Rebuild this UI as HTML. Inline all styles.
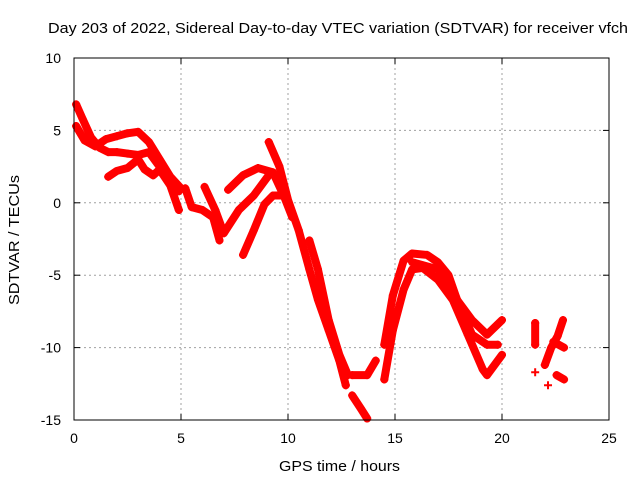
<!DOCTYPE html>
<html><head><meta charset="utf-8"><style>
body{margin:0;background:#fff;}
svg{display:block;font-family:"Liberation Sans",sans-serif;}
</style></head><body>
<svg id="c" width="640" height="480">
<text x="48" y="33" font-size="15" textLength="580" lengthAdjust="spacingAndGlyphs">Day 203 of 2022, Sidereal Day-to-day VTEC variation (SDTVAR) for receiver vfch</text>
<text x="279" y="471" font-size="15" textLength="121" lengthAdjust="spacingAndGlyphs">GPS time / hours</text>
<text transform="translate(19,305) rotate(-90)" font-size="15" textLength="130" lengthAdjust="spacingAndGlyphs">SDTVAR / TECUs</text>
<g id="grid"></g><g id="ticks"></g><g id="marks"></g>
<rect x="74" y="58" width="535" height="362" fill="none" stroke="#000" stroke-width="1"/>
</svg>
<script>
const xTicks=[0,5,10,15,20,25];
const yTicks=[10,5,0,-5,-10,-15];
const track1=[[0.1,6.8],[0.4,5.8],[0.8,4.5],[1.2,3.8],[1.6,3.5],[2,3.5],[2.5,3.4],[3,3.3],[3.5,3.5],[4,2.5],[4.5,1.5],[4.9,0.8]];
const track2=[[0.1,5.3],[0.5,4.3],[1,3.9],[1.5,4.4],[2,4.6],[2.5,4.8],[3,4.9],[3.5,4.2],[4,3.0],[4.5,1.8],[5,1.0]];
const track3=[[1.6,1.8],[2,2.2],[2.5,2.4],[3,3.0],[3.3,2.3],[3.7,1.9],[4,2.3],[4.5,1.2],[4.9,-0.5]];
const track4=[[5.2,1.0],[5.5,-0.3],[6,-0.5],[6.5,-1.0],[6.8,-2.6]];
const track5=[[6.1,1.1],[6.6,-0.5],[7.0,-2.1],[7.7,-0.5],[8.4,0.5],[9.1,1.9]];
const track6=[[7.9,-3.6],[8.4,-1.9],[8.9,-0.1],[9.3,0.5],[9.8,0.5],[10.2,-1.0]];
const track7=[[7.2,0.9],[7.9,1.9],[8.6,2.4],[9.3,2.1],[9.8,0.5]];
const track8=[[9.1,4.2],[9.6,2.5],[10,0.2],[10.5,-1.9],[11,-4.6],[11.4,-6.7],[11.9,-8.8],[12.4,-10.9],[12.7,-12.6]];
const track9=[[11,-2.6],[11.4,-4.6],[11.9,-8.1],[12.4,-10.5],[12.8,-11.9]];
const track10=[[13,-11.9],[13.7,-11.9],[14.1,-10.9]];
const track11=[[13,-13.3],[13.4,-14.2],[13.7,-14.9]];
const track12=[[14.5,-9.8],[14.9,-6.4],[15.4,-4.0],[15.8,-3.5],[16.5,-3.6],[17,-4.1],[17.5,-5.0],[17.9,-6.7],[18.6,-8.1],[19.3,-9.1],[20,-8.1]];
const track13=[[14.5,-12.2],[14.9,-8.8],[15.4,-6.0],[15.8,-4.6],[16.3,-4.5],[17,-5.3],[17.7,-6.7],[18.4,-9.1],[19.1,-11.5],[19.3,-11.9],[20,-10.5]];
const track14=[[15.8,-4.1],[17,-4.6],[17.7,-6.0],[18.6,-9.1],[19.3,-9.8],[19.8,-9.8]];
const track15=[[21.55,-8.3],[21.55,-9.8]];
const track16=[[22,-11.2],[22.3,-10.0],[22.6,-9.2],[22.85,-8.1]];
const track17=[[22.4,-9.6],[22.9,-10.0]];
const track18=[[22.55,-11.9],[22.9,-12.2]];
const singles=[[21.55,-11.7],[22.15,-12.6]];
const tracks=[track1,track2,track3,track4,track5,track6,track7,track8,track9,track10,track11,track12,track13,track14,track15,track16,track17,track18];
const X0=74,X1=609,Y0=58,Y1=420;
function sx(t){return X0+(t-0)/(25-0)*(X1-X0);}
function sy(v){return Y1-(v+15)/(25)*(Y1-Y0);}
const NS="http://www.w3.org/2000/svg";
const grid=document.getElementById('grid'),ticks=document.getElementById('ticks'),marks=document.getElementById('marks');
function mk(tag,attrs,parent){const e=document.createElementNS(NS,tag);for(const k in attrs)e.setAttribute(k,attrs[k]);parent.appendChild(e);return e;}
xTicks.forEach(t=>{
  const x=sx(t);
  if(t>0&&t<25){const g=mk('line',{x1:x,x2:x,y1:Y0,y2:Y1,stroke:'#a0a0a0','stroke-dasharray':'2,3'},grid);
  
  }
  mk('line',{x1:x,x2:x,y1:Y1,y2:Y1-6,stroke:'#000'},ticks);
  mk('line',{x1:x,x2:x,y1:Y0,y2:Y0+6,stroke:'#000'},ticks);
  const l=mk('text',{x:x,y:443,'font-size':14,'text-anchor':'middle'},ticks);
  l.textContent=t;
  
  
});
yTicks.forEach(v=>{
  const y=sy(v);
  if(v>-15&&v<10){const g=mk('line',{x1:X0,x2:X1,y1:y,y2:y,stroke:'#a0a0a0','stroke-dasharray':'2,3'},grid);
  
  }
  mk('line',{x1:X0,x2:X0+6,y1:y,y2:y,stroke:'#000'},ticks);
  mk('line',{x1:X1,x2:X1-6,y1:y,y2:y,stroke:'#000'},ticks);
  const l=mk('text',{x:61,y:y+5,'font-size':14,'text-anchor':'end'},ticks);
  l.textContent=v;
  
  
});
function plus(t,v,parent){
  const x=sx(t),y=sy(v);
  mk('path',{d:`M${x-4},${y}h8M${x},${y-4}v8`,stroke:'#f00','stroke-width':2},parent);
}
tracks.forEach((tr,i)=>{
  const g=mk('g',{},marks);
  
  
  mk('polyline',{points:tr.map(p=>sx(p[0])+','+sy(p[1])).join(' '),fill:'none',stroke:'#f00','stroke-width':8,'stroke-linejoin':'round','stroke-linecap':'round'},g);
  tr.forEach(p=>plus(p[0],p[1],g));
});
singles.forEach(p=>{
  const g=mk('g',{},marks);
  
  
  plus(p[0],p[1],g);
});
</script>
</body></html>
